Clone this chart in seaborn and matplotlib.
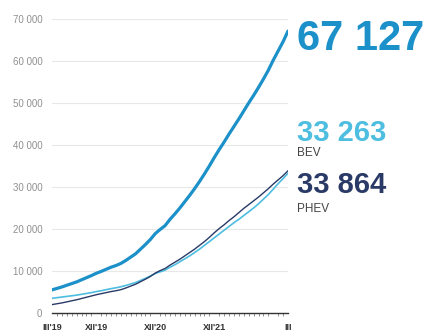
import numpy as np
import pandas as pd
import matplotlib
matplotlib.use("Agg")
import matplotlib.pyplot as plt
import seaborn as sns
from matplotlib.ticker import FuncFormatter, MultipleLocator

## Data: monthly cumulative EV counts, III'19 .. III'23
total = [5500, 5850, 6200, 6600, 7000, 7400, 7900, 8400, 8900, 9450,
         9900, 10400, 10900, 11300, 11800, 12500, 13300, 14100, 15200, 16300, 17500, 18900,
         19900, 20800, 22300, 23600, 25000, 26500, 28000, 29600, 31300, 33100, 35000, 37000,
         38900, 40700, 42600, 44400, 46200, 48100, 50000, 51800, 53700, 55700, 57800, 60200,
         62400, 64600, 67127]
bev = [3500, 3650, 3800, 3950, 4100, 4250, 4450, 4650, 4850, 5100,
       5300, 5550, 5800, 6000, 6250, 6550, 6900, 7250, 7750, 8250, 8800, 9400,
       9800, 10200, 10900, 11500, 12200, 12900, 13600, 14400, 15200, 16100, 17000, 17900,
       18800, 19700, 20600, 21500, 22300, 23200, 24100, 25000, 26000, 27100, 28200, 29500,
       30800, 32000, 33263]
phev = [2000, 2200, 2400, 2650, 2900, 3150, 3450, 3750, 4050, 4350,
        4600, 4850, 5100, 5300, 5550, 5950, 6400, 6850, 7450, 8050, 8700, 9500,
        10100, 10600, 11400, 12100, 12800, 13600, 14400, 15200, 16100, 17000, 18000, 19100,
        20100, 21000, 22000, 22900, 23900, 24900, 25800, 26700, 27600, 28600, 29600, 30700,
        31700, 32700, 33864]
label_pos = [0, 9, 21, 33, 45, 48]
label_txt = ["III'19", "XII'19", "XII'20", "XII'21", "", "III"]

months = np.arange(len(total))
df = pd.DataFrame({"m": months, "total": total, "bev": bev, "phev": phev})

c_total = "#1b90c9"
c_bev = "#4dbde0"
c_phev = "#2a3a66"

sns.set_style("white")
plt.rcParams["font.family"] = ["Liberation Sans", "DejaVu Sans"]

fig = plt.figure(figsize=(4.37, 3.34), dpi=100)
ax = fig.add_axes([52 / 437, 21 / 334, 236 / 437, 294 / 334])

sns.lineplot(data=df, x="m", y="bev", color=c_bev, linewidth=1.2, ax=ax)
sns.lineplot(data=df, x="m", y="phev", color=c_phev, linewidth=1.0, ax=ax)
sns.lineplot(data=df, x="m", y="total", color=c_total, linewidth=2.3, ax=ax)

ax.set_xlim(0, 48)
ax.set_ylim(0, 70000)
ax.set_xlabel("")
ax.set_ylabel("")
ax.yaxis.set_major_locator(MultipleLocator(10000))
ax.yaxis.set_major_formatter(FuncFormatter(lambda v, p: f"{int(v):,}".replace(",", " ")))
ax.grid(axis="y", color="#e8e8e8", linewidth=0.8)
ax.set_axisbelow(True)
ax.tick_params(axis="y", length=0, pad=7, labelsize=7, labelcolor="#909090")

ax.set_xticks(label_pos)
ax.set_xticklabels(label_txt)
ax.set_xticks(months, minor=True)
ax.tick_params(axis="x", which="major", length=4, width=1, color="#333333",
               labelsize=6.5, labelcolor="#333333", pad=3)
ax.tick_params(axis="x", which="minor", length=2, width=0.5, color="#666666", bottom=True)
ticks = ax.xaxis.get_major_ticks()
for i in (0, 5):
    ticks[i].tick1line.set_visible(False)
for t in ax.get_xticklabels():
    t.set_fontweight("bold")

sns.despine(ax=ax, left=True)
ax.spines["bottom"].set_color("#333333")
ax.spines["bottom"].set_linewidth(1)

# end labels
fig.text(297 / 437, 1 - 50 / 334, "67 127", color=c_total, fontsize=30,
         fontweight="bold", va="baseline")
fig.text(297 / 437, 1 - 141 / 334, "33 263", color=c_bev, fontsize=21,
         fontweight="bold", va="baseline")
fig.text(297 / 437, 1 - 156 / 334, "BEV", color="#444444", fontsize=8.5, va="baseline")
fig.text(297 / 437, 1 - 193 / 334, "33 864", color=c_phev, fontsize=21,
         fontweight="bold", va="baseline")
fig.text(297 / 437, 1 - 212 / 334, "PHEV", color="#444444", fontsize=8.5, va="baseline")

fig.savefig("out.png", dpi=100)
